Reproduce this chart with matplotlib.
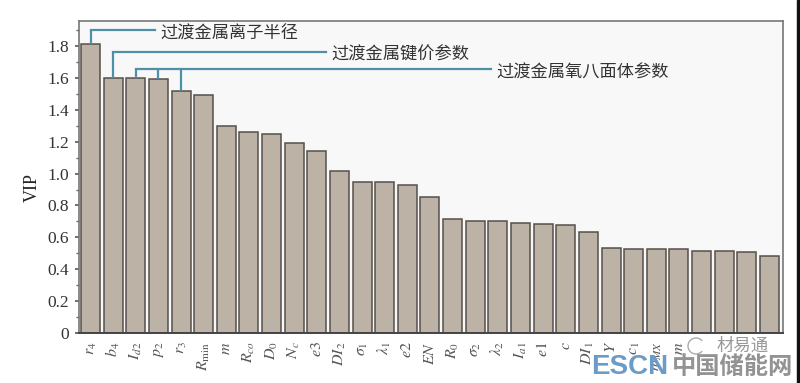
import matplotlib
matplotlib.use("Agg")
import matplotlib.pyplot as plt
from matplotlib.patches import Arc, Rectangle
from matplotlib.ticker import MultipleLocator

plt.rcParams["font.family"] = ["Liberation Serif", "Noto Sans CJK SC", "DejaVu Sans"]
plt.rcParams["mathtext.fontset"] = "stix"

labels = ["r_4", "b_4", "I_{d2}", "p_2", "r_3", "R_{\\min}", "m", "R_{co}", "D_0", "N_c",
          "e3", "DI_2", "\\sigma_1", "\\lambda_1", "e2", "EN", "R_0", "\\sigma_2", "\\lambda_2",
          "I_{a1}", "e1", "c", "DI_1", "Y", "c_1", "m_{MX}", "m", "", "", "", ""]
vip = [1.81, 1.60, 1.60, 1.595, 1.52, 1.49, 1.30, 1.26, 1.25, 1.19,
       1.14, 1.015, 0.95, 0.945, 0.93, 0.85, 0.715, 0.705, 0.70,
       0.69, 0.685, 0.675, 0.635, 0.535, 0.53, 0.53, 0.53, 0.515, 0.515, 0.51, 0.485]

notes = ["过渡金属离子半径", "过渡金属键价参数", "过渡金属氧八面体参数"]
note_bars = [[0], [1], [2, 3, 4]]
note_levels = [1.90, 1.763, 1.656]
note_ends = [2.85, 10.4, 17.7]

BLUE = "#4f8fa8"

fig = plt.figure(figsize=(8, 3.83), dpi=100)
ax = fig.add_axes([79 / 800, 1 - 333 / 383, (783 - 79) / 800, (333 - 21) / 383])
ax.set_facecolor("#f8f8f8")

x = list(range(len(vip)))
ax.bar(x, vip, width=0.84, color="#bdb2a6", edgecolor="#55504b", linewidth=1.1, zorder=2)

for bars, level, end, note in zip(note_bars, note_levels, note_ends, notes):
    for b in bars:
        ax.plot([b, b], [vip[b], level], color=BLUE, lw=1.6, zorder=3, solid_capstyle="butt")
    ax.plot([bars[0], end], [level, level], color=BLUE, lw=1.6, zorder=3)
    ax.text(end + 0.25, level - 0.02, note, fontsize=12.4, color="#333333", va="center", ha="left",
            family=["Noto Sans CJK SC"], fontweight="light")

ax.set_xlim(-0.51, 30.6)
ax.set_ylim(0, 1.957)
ax.yaxis.set_minor_locator(MultipleLocator(0.1))
ax.set_yticks([i * 0.2 for i in range(10)])
ax.set_yticklabels(["0", "0.2", "0.4", "0.6", "0.8", "1.0", "1.2", "1.4", "1.6", "1.8"])
ax.tick_params(axis="y", which="major", length=3, width=1.2, color="#555555", labelsize=12.5,
               labelcolor="#333333", pad=4)
ax.tick_params(axis="y", which="minor", length=2, width=1.0, color="#666666")
ax.set_xticks(x)
ax.set_xticklabels(["$%s$" % s if s else "" for s in labels], rotation=90, fontsize=11.5, color="#555555")
ax.tick_params(axis="x", length=0, pad=6)
ax.set_ylabel("VIP", fontsize=13, color="#222222", labelpad=0)
ax.yaxis.set_label_coords(-0.054, 0.465)

for side in ["top", "right", "left"]:
    ax.spines[side].set_color("#777777")
    ax.spines[side].set_linewidth(1.2)
ax.spines["bottom"].set_color("#444444")
ax.spines["bottom"].set_linewidth(1.4)

# watermarks over the bottom right corner
fig.text(591 / 800, 1 - 367 / 383, "ESCN", fontsize=20, color="#6a9bc9", va="center", ha="left",
         family=["Liberation Sans"], fontweight="bold")
fig.text(672 / 800, 1 - 367 / 383, "中国储能网", fontsize=17.5, color="#808080", alpha=0.85, va="center", ha="left",
         family=["Noto Sans CJK SC"], fontweight="bold")
fig.text(717 / 800, 1 - 346 / 383, "材易通", fontsize=12.5, color="#999999", va="center", ha="left",
         family=["Noto Sans CJK SC"])
fig.add_artist(Arc((696 / 800, 1 - 346 / 383), 16 / 800, 16 / 383, theta1=60, theta2=300,
                   color="#aaaaaa", lw=1.0, transform=fig.transFigure))

# dark edge of the scan on the right
fig.add_artist(Rectangle((797 / 800, 0), 3 / 800, 1, color="#111111", transform=fig.transFigure))

fig.savefig("out.png", dpi=100)
